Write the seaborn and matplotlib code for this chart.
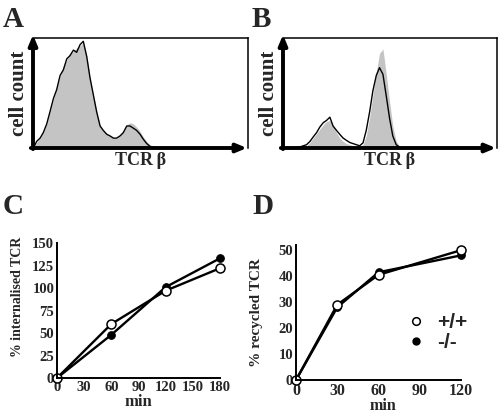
import numpy as np
import pandas as pd
import matplotlib
matplotlib.use("Agg")
import matplotlib.pyplot as plt
import seaborn as sns
from matplotlib.lines import Line2D

# data
# histogram channels (shared by A and B)
channel = [2, 17, 33, 48, 64, 79, 95, 110, 126, 141, 157, 172, 188, 203, 219, 234, 250, 265, 281, 296,
           312, 327, 343, 358, 374, 389, 405, 420, 436, 451, 467, 482, 498, 513, 529, 544, 560, 575, 591]

a_line = [0, 6, 9, 14, 22, 33, 45, 53, 66, 71, 81, 84, 89, 87, 94, 97, 83, 64, 48, 33,
          20, 16, 12.5, 11, 9, 9, 11, 14, 20, 20, 18, 16, 12.5, 8, 4, 1.5, 0.6, 0, 0]
a_grey = [0, 5, 9, 14, 22, 33, 44, 55, 65, 74, 80, 85, 88, 91, 93, 96, 84, 64, 48, 33,
          20, 16, 12.5, 11, 9, 9, 11, 16, 21, 23, 22, 19, 15, 10, 6, 3, 1, 0, 0]

b_line = [0, 0, 0, 0.3, 0.5, 1, 2, 3, 6, 10, 14, 19, 23, 25, 28, 20, 16, 12.5, 9, 7,
          5, 4, 3, 2, 4.7, 16, 33, 52, 66, 73, 67, 48, 27, 11, 3, 1, 0, 0, 0]
b_grey = [0, 0, 0, 0, 0, 0.5, 1, 2, 5, 9, 13, 17, 21, 24, 25, 20, 14, 9, 6, 4,
          3, 2, 1, 1, 3, 11, 28, 48, 69, 86, 90, 68, 42, 20, 6, 1.5, 0, 0, 0]

# internalisation (C)
c_min = [0, 60, 120, 180]
c_wt = [0, 60, 97, 122]
c_ko = [0, 48, 101, 133]

# recycling (D)
d_min = [0, 30, 60, 120]
d_wt = [0, 29, 40.5, 50]
d_ko = [0, 28, 41.5, 48]

sns.set_style("white")
plt.rcParams['font.family'] = ['Liberation Serif', 'DejaVu Serif']
plt.rcParams['font.weight'] = 'bold'
plt.rcParams['axes.labelweight'] = 'bold'

fig = plt.figure(figsize=(5, 4.15), dpi=100)
W, H = 500, 415


def px_axes(x0, y0, x1, y1):
    return fig.add_axes([x0 / W, 1 - y1 / H, (x1 - x0) / W, (y1 - y0) / H])


def histo(ax, grey, line):
    ax.fill_between(channel, grey, color="#c4c4c4", lw=0)
    sns.lineplot(x=channel, y=line, ax=ax, color="black", lw=1.0)
    ax.set_xlim(0, 1000)
    ax.set_ylim(0, 100)
    for s in ["left", "bottom"]:
        ax.spines[s].set_visible(False)
    for s in ["top", "right"]:
        ax.spines[s].set_linewidth(1.1)
        ax.spines[s].set_color("black")
    ax.set_xticks([])
    ax.set_yticks([])
    ax.annotate("", xy=(0, 1.03), xytext=(0, -0.01), xycoords="axes fraction",
                arrowprops=dict(arrowstyle="-|>,head_length=0.6,head_width=0.25", lw=2.8, color="black",
                                shrinkA=0, shrinkB=0), annotation_clip=False)
    ax.annotate("", xy=(0.995, 0), xytext=(-0.01, 0), xycoords="axes fraction",
                arrowprops=dict(arrowstyle="-|>,head_length=0.6,head_width=0.25", lw=2.8, color="black",
                                shrinkA=0, shrinkB=0), annotation_clip=False)
    ax.set_ylabel("cell count", fontsize=15, labelpad=3)
    ax.set_xlabel("TCR\u2009β", fontsize=13, labelpad=3)


axA = px_axes(33, 38, 248, 148)
histo(axA, a_grey, a_line)
axB = px_axes(283, 38, 497, 148)
histo(axB, b_grey, b_line)


def kinetics(ax, t, wt, ko):
    sns.lineplot(x=t, y=ko, ax=ax, color="black", lw=1.7, marker="o", markersize=5.5,
                 markerfacecolor="black", markeredgecolor="black", clip_on=False)
    sns.lineplot(x=t, y=wt, ax=ax, color="black", lw=1.7, marker="o", markersize=6.5,
                 markerfacecolor="white", markeredgecolor="black", markeredgewidth=1.1, clip_on=False)
    sns.despine(ax=ax)
    for s in ["left", "bottom"]:
        ax.spines[s].set_linewidth(1.4)
        ax.spines[s].set_color("black")
    ax.tick_params(length=3, width=1.2, labelsize=10.5, pad=2, direction="in")
    ax.set_xlabel("min", fontsize=12, labelpad=0)


axC = px_axes(57, 243, 220, 378)
kinetics(axC, c_min, c_wt, c_ko)
axC.set_xlim(0, 180)
axC.set_ylim(0, 150)
axC.set_xticks(range(0, 181, 30))
axC.set_yticks(range(0, 151, 25))
axC.set_ylabel("% internalised TCR", fontsize=10)
axC.yaxis.set_label_coords(-0.2, 0.6)

axD = px_axes(296, 245, 461, 380)
kinetics(axD, d_min, d_wt, d_ko)
axD.set_xlim(0, 120)
axD.set_ylim(0, 52)
axD.set_xticks(range(0, 121, 30))
axD.set_yticks(range(0, 51, 10))
axD.tick_params(axis="x", labelsize=11.5)
axD.set_ylabel("% recycled TCR", fontsize=11)
axD.yaxis.set_label_coords(-0.2, 0.5)
axD.set_xlabel("min", fontsize=11.5)
axD.xaxis.set_label_coords(0.53, -0.135)

handles = [Line2D([], [], ls="none", marker="o", markersize=5.5, markerfacecolor="white",
                  markeredgecolor="black", markeredgewidth=1.1),
           Line2D([], [], ls="none", marker="o", markersize=5, markerfacecolor="black",
                  markeredgecolor="black")]
leg = axD.legend(handles, ["+/+", "-/-"], loc="center left", bbox_to_anchor=(0.55, 0.35),
                 frameon=False, handlelength=1.0, handletextpad=0.5, labelspacing=0.05,
                 prop={"family": "Liberation Sans", "weight": "bold", "size": 15})

for lab, x, y in [("A", 3, 27), ("B", 252, 27), ("C", 3, 214), ("D", 252, 214)]:
    fig.text(x / W, 1 - y / H, lab, fontsize=21, fontweight="bold", ha="left", va="baseline")

fig.savefig("out.png", dpi=100)
